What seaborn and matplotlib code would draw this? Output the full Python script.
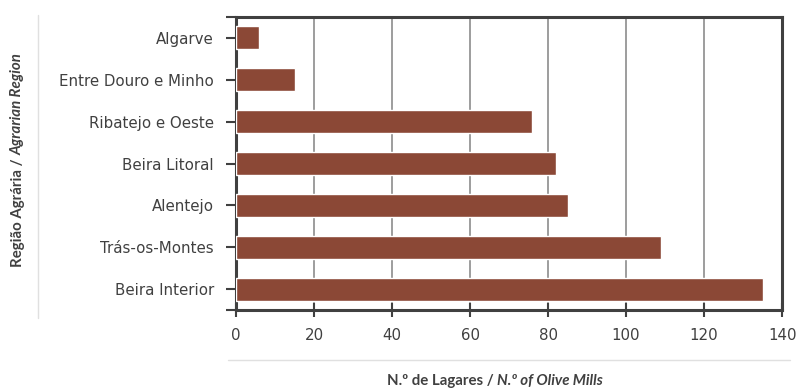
import matplotlib
matplotlib.use("Agg")
import matplotlib.pyplot as plt
import seaborn as sns
import pandas as pd
from matplotlib.lines import Line2D

# Data
regions = ["Algarve", "Entre Douro e Minho", "Ribatejo e Oeste", "Beira Litoral",
           "Alentejo", "Trás-os-Montes", "Beira Interior"]
mills = [6, 15, 76, 82, 85, 109, 135]
x_ticks = [0, 20, 40, 60, 80, 100, 120, 140]

df = pd.DataFrame({"region": regions, "mills": mills})

sns.set_style("white")
plt.rcParams["font.family"] = ["DejaVu Sans"]
text_color = "#404040"
bar_color = "#8B4836"
fs = 10.8
label_font = ["Lato", "DejaVu Sans"]
label_fs = 10.8

fig = plt.figure(figsize=(7.96, 3.92), dpi=100)
ax = fig.add_axes([0.2965, 0.209, 0.686, 0.7476])

sns.barplot(data=df, x="mills", y="region", color=bar_color, saturation=1,
            width=0.55, ax=ax, zorder=3)

ax.set_xlim(0, 140)
ax.set_ylim(6.5, -0.5)
ax.set_xticks(x_ticks)
ax.set_yticks([-0.5, 6.5], minor=True)
ax.xaxis.grid(True, color="#8c8c8c", linewidth=1.2, zorder=0)
ax.set_axisbelow(True)
ax.set_xlabel("")
ax.set_ylabel("")

for side in ["left", "bottom", "top", "right"]:
    ax.spines[side].set_visible(True)
    ax.spines[side].set_color("#404040")
    ax.spines[side].set_linewidth(2.2)

ax.tick_params(axis="y", which="both", left=True, direction="out", length=7, width=1.5,
               color="#404040", labelsize=fs, labelcolor=text_color, pad=9)
ax.tick_params(axis="x", bottom=True, direction="inout", length=10, width=1.5,
               color="#404040", labelsize=fs, labelcolor=text_color, pad=8)

# separator lines
fig.add_artist(Line2D([38 / 796, 38 / 796], [1 - 15 / 392, 1 - 318 / 392],
                      color="#e0e0e0", linewidth=1))
fig.add_artist(Line2D([228 / 796, 790 / 796], [1 - 360 / 392, 1 - 360 / 392],
                      color="#e0e0e0", linewidth=1))

# titles with mixed bold / bold italic
renderer = fig.canvas.get_renderer()

t1 = fig.text(0, 1 - 381 / 392, "N.º de Lagares / ", fontsize=label_fs, fontweight="bold",
              family=label_font, color=text_color, va="center", ha="left")
t2 = fig.text(0, 1 - 381 / 392, "N.º of Olive Mills", fontsize=label_fs, fontweight="bold",
              family=label_font, style="italic", color=text_color, va="center", ha="left")
w1 = t1.get_window_extent(renderer).width / fig.bbox.width
w2 = t2.get_window_extent(renderer).width / fig.bbox.width
x0 = 495 / 796 - (w1 + w2) / 2
t1.set_x(x0)
t2.set_x(x0 + w1)

y1 = fig.text(18 / 796, 0, "Região Agrária / ", fontsize=label_fs, fontweight="bold",
              family=label_font, color=text_color, rotation=90, ha="center", va="bottom")
y2 = fig.text(18 / 796, 0, "Agrarian Region", fontsize=label_fs, fontweight="bold",
              family=label_font, style="italic", color=text_color, rotation=90,
              ha="center", va="bottom")
h1 = y1.get_window_extent(renderer).height / fig.bbox.height
h2 = y2.get_window_extent(renderer).height / fig.bbox.height
yc = 1 - 160 / 392
y0 = yc - (h1 + h2) / 2
y1.set_y(y0)
y2.set_y(y0 + h1)

fig.savefig("out.png", dpi=100)
